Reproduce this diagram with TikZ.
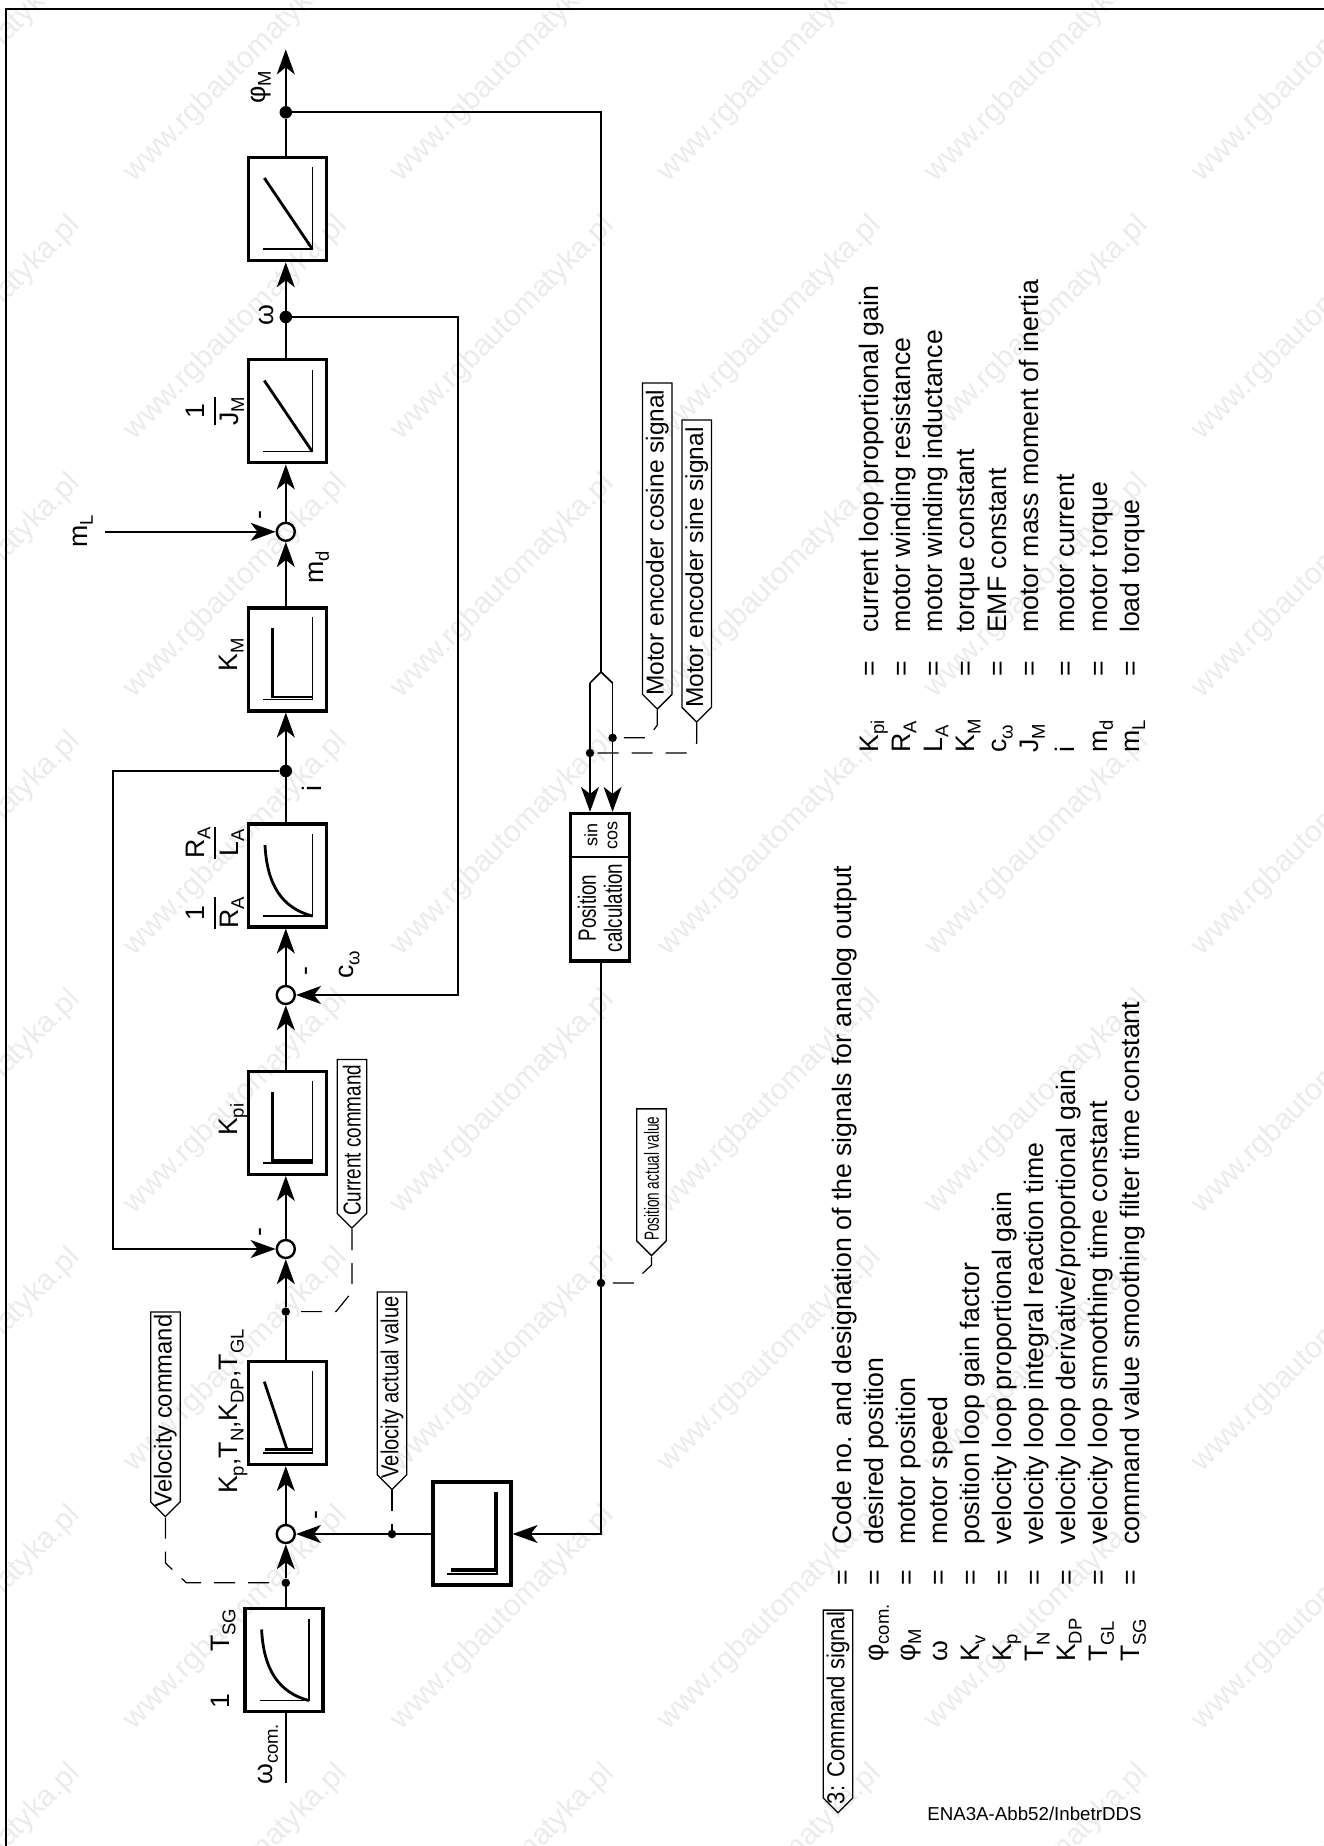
\documentclass[tikz,border=0pt]{standalone}
\usepackage{fontspec}
\usepackage{graphicx}
\setmainfont{Liberation Sans}
\usetikzlibrary{arrows.meta,shapes.symbols}

\newcommand{\lowsub}[1]{\raisebox{-0.22em}{\fontsize{18.5}{18.5}\selectfont #1}}
\newcommand{\ratio}[2]{\begin{tabular}{@{}c@{}}#1\\\hline #2\end{tabular}}
\newcommand{\narrowed}[2]{\scalebox{#1}[1]{#2}}
\newcommand{\calltext}[1]{\makebox[0pt]{#1\hspace*{8pt}}}
\setlength{\arrayrulewidth}{1.6pt}

\tikzset{
  blockbox/.style={draw,line width=3.2pt,minimum width=78pt,minimum height=103pt,inner sep=0pt},
  sumnode/.style={draw,circle,line width=2.4pt,minimum size=18pt,inner sep=0pt},
  bigdot/.style={fill,circle,minimum size=12.5pt,inner sep=0pt},
  smalldot/.style={fill,circle,minimum size=8.5pt,inner sep=0pt},
  wire/.style={line width=1.7pt},
  sig/.style={wire,-{Stealth[length=25pt,width=18pt,inset=7pt]}},
  dashwire/.style={line width=1.2pt,dash pattern=on 21pt off 13pt},
  axisline/.style={line width=1.2pt},
  curveline/.style={line width=2.8pt},
  barline/.style={line width=3.6pt},
  lbl/.style={rotate=90,anchor=base west,inner sep=0pt,font=\fontsize{26.7}{32.1}\selectfont},
  callout/.style={signal,signal to=west,signal pointer angle=90,draw,line width=1.3pt,rotate=90,anchor=west,
    minimum height=29.5pt,inner sep=0pt,font=\fontsize{24.5}{28}\selectfont},
  stamp/.style={rotate=45,text=black!8,font=\fontsize{30}{30}\selectfont}
}

\begin{document}
\begin{tikzpicture}[x=1pt,y=-1pt]
    \useasboundingbox (0,0) rectangle (1324,1846);

    % background stamp
    \begin{scope}
    \clip (0,0) rectangle (1324,1846);
    \foreach \i in {0,...,5} \foreach \j in {0,...,7}
        \node[stamp] (stamp\i\j) at (-31+267*\i,70+258*\j) {www.rgbautomatyka.pl};
    \end{scope}

    % frame, open at right and bottom
    \draw[line width=2.6pt] (6,1846) -- (6,9) -- (1324,9);

    % blocks
    \node[blockbox] (tsg) at (283.9,1660) {};
    \node[blockbox] (kpblock) at (287.25,1412.9) {};
    \node[blockbox] (filt) at (472,1533.5) {};
    \node[blockbox] (kpi) at (287.25,1122.8) {};
    \node[blockbox] (rala) at (287.25,875.4) {};
    \node[blockbox] (km) at (287.25,659.4) {};
    \node[blockbox] (jm) at (287.25,411.3) {};
    \node[blockbox] (integ) at (287.25,209.2) {};
    \node[blockbox,minimum width=59pt,minimum height=147.5pt] (poscalc) at (599.75,887.25) {};
    \draw[wire] (poscalc.west |- 0,856.8) -- (poscalc.east |- 0,856.8);

    % summing points
    \node[sumnode] (sum1) at (285.8,1534) {};
    \node[sumnode] (sum2) at (285.8,1249) {};
    \node[sumnode] (sum3) at (285.8,995) {};
    \node[sumnode] (sum4) at (285.8,531.8) {};

    % branch points
    \node[smalldot] (dotvcmd) at (285.8,1582.8) {};
    \node[smalldot] (dotccmd) at (285.8,1311.6) {};
    \node[smalldot] (dotvact) at (392,1534) {};
    \node[smalldot] (dotpact) at (601,1283) {};
    \node[bigdot] (doti) at (285.8,771) {};
    \node[bigdot] (dotw) at (285.8,317) {};
    \node[bigdot] (dotphi) at (285.8,112.3) {};
    \node[smalldot] (dotsin) at (590,753) {};
    \node[smalldot] (dotcos) at (612.6,737.8) {};

    % free ends and bends
    \coordinate (wcomin) at (285.8,1782.5);
    \coordinate (phiout) at (285.8,49.4);
    \coordinate (mlin) at (104.8,531.8);
    \coordinate (ibend) at (113.2,1249);
    \coordinate (wbend) at (458,995);
    \coordinate (phibend) at (601,112.3);
    \coordinate (splittop) at (601,672);
    \coordinate (splitsin) at (590,683);
    \coordinate (splitcos) at (612.6,683);
    \coordinate (posbend) at (601,1534);

    % forward path
    \draw[wire] (wcomin) -- (wcomin |- tsg.south);
    \draw[wire] (dotvcmd |- tsg.north) -- (dotvcmd);
    \draw[sig] (dotvcmd) -- (sum1);
    \draw[sig] (sum1) -- (sum1 |- kpblock.south);
    \draw[wire] (sum1 |- kpblock.north) -- (dotccmd);
    \draw[sig] (dotccmd) -- (sum2);
    \draw[sig] (sum2) -- (sum2 |- kpi.south);
    \draw[sig] (sum2 |- kpi.north) -- (sum3);
    \draw[sig] (sum3) -- (sum3 |- rala.south);
    \draw[wire] (doti |- rala.north) -- (doti);
    \draw[sig] (doti) -- (doti |- km.south);
    \draw[sig] (doti |- km.north) -- (sum4);
    \draw[sig] (sum4) -- (sum4 |- jm.south);
    \draw[wire] (dotw |- jm.north) -- (dotw);
    \draw[sig] (dotw) -- (dotw |- integ.south);
    \draw[wire] (dotphi |- integ.north) -- (dotphi);
    \draw[sig] (dotphi) -- (phiout);

    % feedback paths
    \draw[sig] (mlin) -- (sum4);
    \draw[sig] (doti) -| (ibend) -- (sum2);
    \draw[sig] (dotw) -| (wbend) -- (sum3);
    \draw[wire] (dotphi) -- (phibend) -- (splittop);
    \draw[wire] (splitsin) -- (splittop) -- (splitcos);
    \draw[sig] (splitsin) -- (splitsin |- poscalc.north);
    \draw[sig] (splitcos) -- (splitcos |- poscalc.north);
    \draw[wire] (dotpact |- poscalc.south) -- (dotpact);
    \draw[sig] (dotpact) -- (posbend) -- (posbend -| filt.east);
    \draw[sig] (sum1 -| filt.west) -- (sum1);

    % curves in the blocks
    \draw[axisline] (312.3,166.9) -- (312.3,249) -- (263,249);
    \draw[curveline] (264.3,178) -- (312.3,249);
    \draw[axisline] (312.3,369.5) -- (312.3,451.6) -- (263,451.6);
    \draw[curveline] (264.3,380.6) -- (312.3,451.6);
    \draw[axisline] (312.3,617) -- (312.3,699.5) -- (263,699.5);
    \draw[curveline] (272.7,627.6) -- (272.7,697) -- (312.3,697);
    \draw[axisline] (312.3,1081.4) -- (312.3,1163) -- (263,1163);
    \draw[curveline] (272.7,1091.8) -- (272.7,1160.6) -- (312.3,1160.6);
    \draw[axisline] (312.3,834) -- (312.3,916) -- (263,916);
    \draw[curveline] (265,845) .. controls (267,885) and (282,908) .. (312.3,916);
    \draw[axisline] (308.9,1618.5) -- (308.9,1700.5) -- (259.6,1700.5);
    \draw[curveline] (261.6,1629.5) .. controls (263.6,1669.5) and (278.6,1692.5) .. (308.9,1700.5);
    \draw[axisline] (312.3,1371) -- (312.3,1453) -- (263,1453);
    \draw[curveline] (264.3,1381.7) -- (287,1449.5);
    \draw[barline] (265,1449.5) -- (312.3,1449.5);
    \draw[axisline] (497,1491.8) -- (497,1574) -- (447,1574);
    \draw[barline] (495.5,1491.8) -- (495.5,1570) -- (451,1570);

    % texts at the blocks
    \node[lbl] (lblwcom) at (272,1785) {ω\lowsub{com.}};
    \node[lbl] (lblone) at (229.4,1709) {1};
    \node[lbl] (lbltsg) at (229.4,1652) {T\lowsub{SG}};
    \node[lbl] (lblkp) at (237.8,1494) {K\lowsub{p},T\lowsub{N},K\lowsub{DP},T\lowsub{GL}};
    \node[lbl] (lblkpi) at (237.8,1136) {K\lowsub{pi}};
    \node[lbl,anchor=center] (lblonera) at (215,913) {\ratio{1}{R\lowsub{A}}};
    \node[lbl,anchor=center] (lblrala) at (215,843) {\ratio{R\lowsub{A}}{L\lowsub{A}}};
    \node[lbl] (lblkm) at (237.8,672) {K\lowsub{M}};
    \node[lbl,anchor=center] (lbljm) at (215,411) {\ratio{1}{J\lowsub{M}}};
    \node[lbl] (lblcw) at (353.5,979) {c\lowsub{ω}};
    \node[lbl] (lbli) at (321,792) {i};
    \node[lbl] (lblmd) at (323,584) {m\lowsub{d}};
    \node[lbl] (lblml) at (87,548) {m\lowsub{L}};
    \node[lbl] (lblw) at (273.6,326) {ω};
    \node[lbl] (lblphi) at (265,104) {φ\lowsub{M}};

    % minus signs
    \node[lbl] (minus1) at (323,1520) {-};
    \node[lbl] (minus2) at (267,1237) {-};
    \node[lbl] (minus3) at (313,976) {-};
    \node[lbl] (minus4) at (267,520) {-};

    % position block
    \node[rotate=90,align=center,font=\fontsize{25}{26}\selectfont] (postext) at (600,908)
        {\narrowed{0.75}{Position}\\\narrowed{0.75}{calculation}};
    \node[rotate=90,align=center,font=\fontsize{18}{20}\selectfont] (sincos) at (601,835)
        {sin\\cos};

    % signal labels with their dashed leads
    \node[callout,minimum width=204.5pt] (vcmd) at (165.4,1517.5) {\calltext{\narrowed{0.97}{Velocity command}}};
    \draw[dashwire] (vcmd.west) -- (165.4,1563) -- (186.4,1582.8) -- (dotvcmd);
    \node[callout,minimum width=197.4pt] (vact) at (392,1490.4) {\calltext{\narrowed{0.82}{Velocity actual value}}};
    \draw[dashwire] (vact.west) -- (dotvact);
    \node[callout,minimum width=168.6pt] (ccmd) at (351.9,1229) {\calltext{\narrowed{0.77}{Current command}}};
    \draw[dashwire] (ccmd.west) -- (351.9,1292) -- (336,1311.6) -- (dotccmd);
    \node[callout,minimum width=146.7pt,font=\fontsize{20.5}{24}\selectfont] (pact) at (651.5,1256.5) {\calltext{\narrowed{0.66}{Position actual value}}};
    \draw[dashwire] (pact.west) -- (651.5,1265) -- (642,1274) -- (635,1283) -- (dotpact);
    \node[callout,minimum width=326pt] (mcos) at (657.3,710) {\calltext{Motor encoder cosine signal}};
    \draw[dashwire] (mcos.west) -- (657.3,725) -- (648,737.8) -- (dotcos);
    \node[callout,minimum width=302pt] (msin) at (696.7,723) {\calltext{Motor encoder sine signal}};
    \draw[dashwire] (msin.west) -- (696.7,743) -- (686,753) -- (dotsin);

    % legend
    \node[lbl] (legendmotor) at (878.3,753) {\begin{tabular}[t]{@{}p{76.4pt}@{}p{43.6pt}@{}l@{}}
        K\lowsub{pi} & = & current loop proportional gain\\
        R\lowsub{A} & = & motor winding resistance\\
        L\lowsub{A} & = & motor winding inductance\\
        K\lowsub{M} & = & torque constant\\
        c\lowsub{ω} & = & EMF constant\\
        J\lowsub{M} & = & motor mass moment of inertia\\[4pt]
        i & = & motor current\\
        m\lowsub{d} & = & motor torque\\
        m\lowsub{L} & = & load torque
    \end{tabular}};
    \node[lbl] (legendctrl) at (851,1662) {\begin{tabular}[t]{@{}p{76.4pt}@{}p{40.6pt}@{}l@{}}
         & = & Code no. and designation of the signals for analog output\\
        φ\lowsub{com.} & = & desired position\\
        φ\lowsub{M} & = & motor position\\
        ω & = & motor speed\\
        K\lowsub{v} & = & position loop gain factor\\
        K\lowsub{p} & = & velocity loop proportional gain\\
        T\lowsub{N} & = & velocity loop integral reaction time\\
        K\lowsub{DP} & = & velocity loop derivative/proportional gain\\
        T\lowsub{GL} & = & velocity loop smoothing time constant\\
        T\lowsub{SG} & = & command value smoothing filter time constant
    \end{tabular}};
    \node[callout,minimum width=202.6pt] (cmdsig) at (838,1813.6) {\calltext{\narrowed{0.9}{3: Command signal}}};

    % drawing number
    \node[anchor=base east,inner sep=0pt,font=\fontsize{18.7}{22}\selectfont] (drawno) at (1141.7,1820.7) {ENA3A-Abb52/InbetrDDS};
\end{tikzpicture}
\end{document}
